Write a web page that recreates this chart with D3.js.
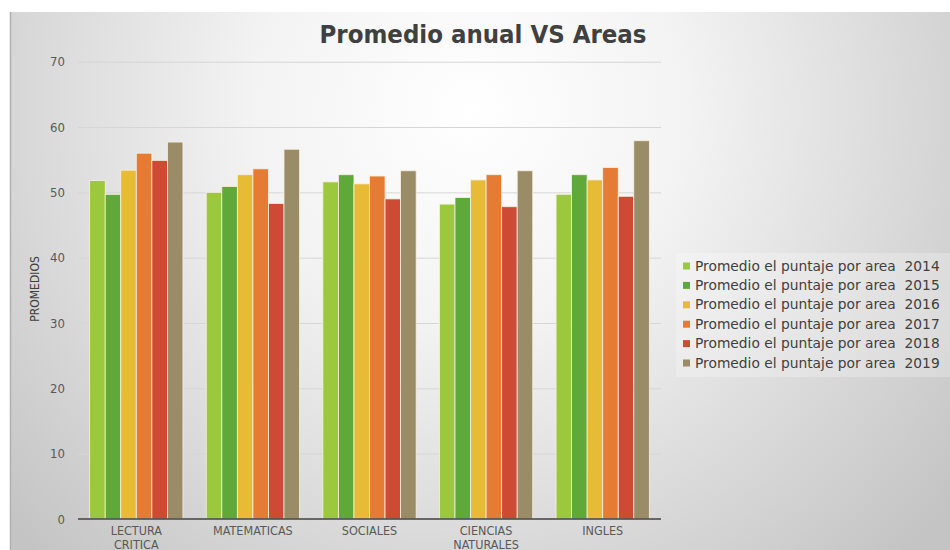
<!DOCTYPE html>
<html><head><meta charset="utf-8">
<script src="https://cdn.jsdelivr.net/npm/d3@7"></script>
<style>body{margin:0;overflow:hidden;background:#fff}</style>
</head><body><svg id="c" width="950" height="550"></svg>
<script>
const categories = [["LECTURA","CRITICA"],["MATEMATICAS"],["SOCIALES"],["CIENCIAS","NATURALES"],["INGLES"]];
const years = ["2014","2015","2016","2017","2018","2019"];
const s2014 = [51.8, 50.0, 51.6, 48.2, 49.7];
const s2015 = [49.7, 50.9, 52.7, 49.2, 52.7];
const s2016 = [53.4, 52.7, 51.3, 51.9, 51.9];
const s2017 = [56.0, 53.6, 52.5, 52.7, 53.8];
const s2018 = [54.9, 48.3, 49.0, 47.8, 49.4];
const s2019 = [57.7, 56.6, 53.3, 53.3, 57.9];
const yTicks = [0,10,20,30,40,50,60,70];
const seriesValues = [s2014,s2015,s2016,s2017,s2018,s2019];
const colors = ["#9bc83d","#5fa93a","#e8bb36","#e67b33","#cf4a35","#9a8c66"];

const svg = d3.select("#c");
const defs = svg.append("defs");
const rg = defs.append("radialGradient").attr("id","bg").attr("gradientUnits","userSpaceOnUse")
  .attr("cx",470).attr("cy",110).attr("r",620);
rg.append("stop").attr("offset","0%").attr("stop-color","#ffffff");
rg.append("stop").attr("offset","35%").attr("stop-color","#f3f3f3");
rg.append("stop").attr("offset","100%").attr("stop-color","#c4c4c4");

svg.append("rect").attr("x",10).attr("y",12).attr("width",940).attr("height",538).attr("fill","url(#bg)");
svg.append("line").attr("x1",10.5).attr("x2",10.5).attr("y1",12).attr("y2",550).attr("stroke","#b0b0b0").attr("stroke-width",1.5);

const x0 = d3.scaleBand().domain(d3.range(categories.length)).range([78,661]).paddingInner(0.2).paddingOuter(0.1);
const x1 = d3.scaleBand().domain(d3.range(years.length)).range([0,x0.bandwidth()]);
const y = d3.scaleLinear().domain([0,70]).range([519,61.7]);

const FONT = "'DejaVu Sans Condensed','DejaVu Sans',sans-serif";

// gridlines
const yAxis = d3.axisLeft(y).tickValues(yTicks).tickSize(-(661-78)).tickPadding(13);
const ga = svg.append("g").attr("transform","translate(78,0)").call(yAxis);
ga.select(".domain").remove();
ga.selectAll(".tick line").attr("stroke","#d6d6d6").attr("stroke-width",1);
ga.selectAll(".tick text").attr("fill","#595959").attr("font-family",FONT).attr("font-size",13);

// bars
categories.forEach((c,i)=>{
  const g = svg.append("g").attr("transform",`translate(${x0(i)},0)`);
  seriesValues.forEach((s,j)=>{
    g.append("rect").attr("x",x1(j)).attr("width",x1.bandwidth())
      .attr("y",y(s[i])).attr("height",y(0)-y(s[i]))
      .attr("fill",colors[j]).attr("stroke","#f7f0e0").attr("stroke-width",0.8);
  });
});

// baseline
svg.append("line").attr("x1",78).attr("x2",661).attr("y1",y(0)).attr("y2",y(0)).attr("stroke","#404040").attr("stroke-width",1.5);

// category labels
categories.forEach((c,i)=>{
  const cx = x0(i)+x0.bandwidth()/2;
  const t = svg.append("text").attr("x",cx).attr("y",535)
    .attr("text-anchor","middle").attr("fill","#595959")
    .attr("font-family",FONT).attr("font-size",12.5);
  c.forEach((line,k)=>t.append("tspan").attr("x",cx).attr("dy",k?13.5:0).text(line));
});

// y title
svg.append("text").attr("transform","translate(39,289) rotate(-90)").attr("text-anchor","middle")
  .attr("fill","#404040").attr("font-family",FONT)
  .attr("font-size",12).text("PROMEDIOS");

// title
svg.append("text").attr("x",483).attr("y",43).attr("text-anchor","middle").attr("fill","#404040")
  .attr("font-family",FONT).attr("font-weight","bold")
  .attr("font-size",25.5).text("Promedio anual VS Areas");

// legend
svg.append("rect").attr("x",676).attr("y",253).attr("width",274).attr("height",124).attr("fill","#ffffff").attr("opacity",0.25);
years.forEach((yr,j)=>{
  const ly = 266 + j*19.4;
  svg.append("rect").attr("x",683).attr("y",ly-3.5).attr("width",7).attr("height",7).attr("fill",colors[j]);
  svg.append("text").attr("x",695).attr("y",ly+4.5).attr("fill","#404040")
    .attr("font-family","'DejaVu Sans',sans-serif").attr("font-size",13.8)
    .attr("xml:space","preserve").text("Promedio el puntaje por area  "+yr);
});
</script></body></html>
